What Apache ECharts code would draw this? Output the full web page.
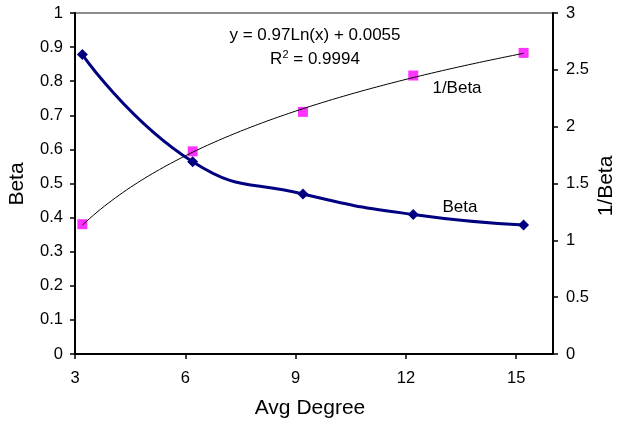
<!DOCTYPE html>
<html>
<head>
<meta charset="utf-8">
<script src="https://cdn.jsdelivr.net/npm/echarts@6/dist/echarts.min.js"></script>
<style>
  html, body { margin: 0; padding: 0; background: #fff; }
  #chart { width: 617px; height: 426px; }
</style>
</head>
<body>
<div id="chart"></div>
<script>
// Average node degree for each run
const avgDegree = [3.2, 6.2, 9.2, 12.2, 15.2];
// Beta measured at each degree (left axis)
const betaValues = [0.878, 0.564, 0.469, 0.409, 0.378];
// Reciprocal of beta (right axis)
const invBetaValues = [1.142, 1.783, 2.13, 2.45, 2.649];
// Labelled ticks on the degree axis
const degreeTicks = [3, 6, 9, 12, 15];
// Logarithmic fit of 1/Beta, as printed on the chart: y = a*ln(x) + b
const fitA = 0.97;
const fitB = 0.0055;

const FONT = '"Liberation Sans", Arial, sans-serif';

const chart = echarts.init(document.getElementById('chart'), null, { renderer: 'canvas' });

const pairs = (xs, ys) => xs.map((x, i) => [x, ys[i]]);

// Trend curve drawn across the measured degree range from the fit coefficients
const trendCurve = [];
const x0 = avgDegree[0], x1 = avgDegree[avgDegree.length - 1];
for (let k = 0; k <= 120; k++) {
  const x = x0 + (x1 - x0) * k / 120;
  trendCurve.push([x, fitA * Math.log(x) + fitB]);
}

const option = {
  animation: false,
  backgroundColor: '#ffffff',
  textStyle: { fontFamily: FONT, color: '#000' },
  grid: {
    left: 75, right: 64, top: 13, bottom: 72,
    show: true, borderColor: '#8c8c8c', borderWidth: 2, backgroundColor: 'transparent'
  },
  xAxis: {
    type: 'value', min: 3, max: 16, interval: 3,
    axisLine: { lineStyle: { color: '#000', width: 2 } },
    axisTick: { show: true, length: 5, customValues: degreeTicks, lineStyle: { color: '#000', width: 1.5 } },
    axisLabel: { customValues: degreeTicks, fontFamily: FONT, fontSize: 16.5, color: '#000', margin: 16 },
    splitLine: { show: false }
  },
  yAxis: [
    {
      type: 'value', min: 0, max: 1, interval: 0.1, position: 'left',
      axisLine: { show: true, lineStyle: { color: '#000', width: 2 } },
      axisTick: { show: true, length: 5, lineStyle: { color: '#000', width: 1.5 } },
      axisLabel: { fontFamily: FONT, fontSize: 16.5, color: '#000', margin: 12 },
      splitLine: { show: false }
    },
    {
      type: 'value', min: 0, max: 3, interval: 0.5, position: 'right',
      axisLine: { show: true, lineStyle: { color: '#000', width: 2 } },
      axisTick: { show: true, length: 5, lineStyle: { color: '#000', width: 1.5 } },
      axisLabel: { fontFamily: FONT, fontSize: 16.5, color: '#000', margin: 13 },
      splitLine: { show: false }
    }
  ],
  series: [
    {
      name: '1/Beta points', type: 'scatter', yAxisIndex: 1,
      data: pairs(avgDegree, invBetaValues),
      symbol: 'rect', symbolSize: 10,
      itemStyle: { color: '#ff00ff' }, z: 2
    },
    {
      name: '1/Beta trend', type: 'line', yAxisIndex: 1,
      data: trendCurve,
      showSymbol: false, symbol: 'none',
      lineStyle: { color: '#000', width: 1 }, z: 3
    },
    {
      name: 'Beta', type: 'line', yAxisIndex: 0,
      data: pairs(avgDegree, betaValues),
      smooth: 0.5, symbol: 'diamond', symbolSize: 11, showSymbol: true,
      lineStyle: { color: '#000080', width: 3 },
      itemStyle: { color: '#000080' }, z: 4
    }
  ],
  graphic: [
    {
      type: 'text', x: 315, y: 35,
      style: { text: 'y = 0.97Ln(x) + 0.0055', font: '17px ' + FONT, fill: '#000', align: 'center', verticalAlign: 'middle' }
    },
    {
      type: 'text', x: 315, y: 59,
      style: {
        text: '{b|R}{s|2}{b| = 0.9994}',
        align: 'center', verticalAlign: 'middle',
        rich: {
          b: { fontFamily: FONT, fontSize: 17, fill: '#000', color: '#000' },
          s: { fontFamily: FONT, fontSize: 11, fill: '#000', color: '#000', verticalAlign: 'top', padding: [0, 0, 8, 0] }
        }
      }
    },
    {
      type: 'text', x: 457, y: 88,
      style: { text: '1/Beta', font: '17px ' + FONT, fill: '#000', align: 'center', verticalAlign: 'middle' }
    },
    {
      type: 'text', x: 460, y: 207,
      style: { text: 'Beta', font: '17px ' + FONT, fill: '#000', align: 'center', verticalAlign: 'middle' }
    },
    {
      type: 'text', x: 310, y: 408,
      style: { text: 'Avg Degree', font: '21px ' + FONT, fill: '#000', align: 'center', verticalAlign: 'middle' }
    },
    {
      type: 'text', x: 17, y: 184, rotation: Math.PI / 2,
      style: { text: 'Beta', font: '21px ' + FONT, fill: '#000', align: 'center', verticalAlign: 'middle' }
    },
    {
      type: 'text', x: 606, y: 186, rotation: Math.PI / 2,
      style: { text: '1/Beta', font: '21px ' + FONT, fill: '#000', align: 'center', verticalAlign: 'middle' }
    }
  ]
};

chart.setOption(option);
</script>
</body>
</html>
